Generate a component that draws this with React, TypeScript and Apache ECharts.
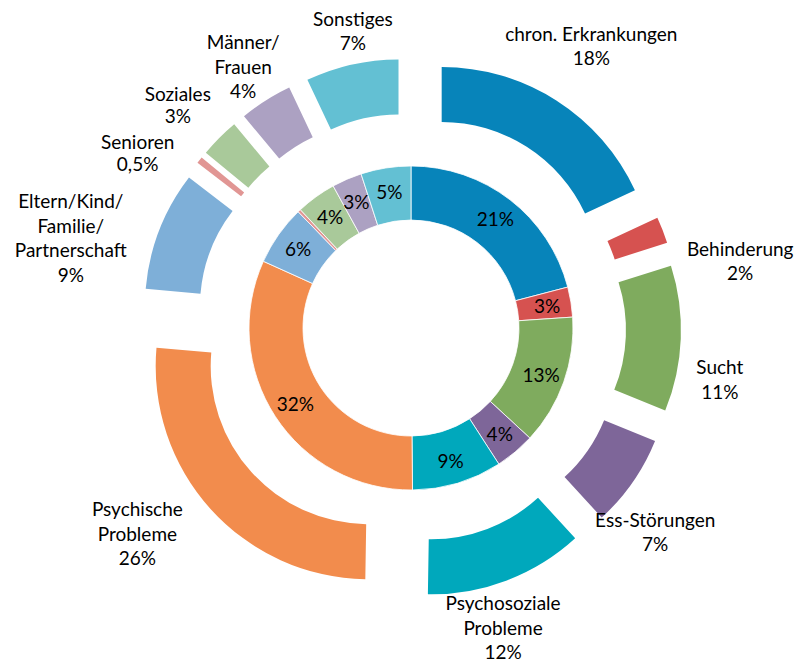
import React, { useEffect, useRef } from 'react';
import * as echarts from 'echarts';

const CATEGORIES = [
  'chron. Erkrankungen',
  'Behinderung',
  'Sucht',
  'Ess-Störungen',
  'Psychosoziale\nProbleme',
  'Psychische\nProbleme',
  'Eltern/Kind/\nFamilie/\nPartnerschaft',
  'Senioren',
  'Soziales',
  'Männer/\nFrauen',
  'Sonstiges',
];
const OUTER_VALUES = [18, 2, 11, 7, 12, 26, 9, 0.5, 3, 4, 7];
const INNER_VALUES = [21, 3, 13, 4, 9, 32, 6, 0.3, 4, 3, 5];
const COLORS = [
  '#0784BA', '#D65250', '#7FAB5E', '#7E6699', '#00A8BC', '#F28C4D',
  '#7EAFD8', '#E19694', '#A9C99A', '#ACA1C2', '#63C0D3',
];

// label placement for the outer ring: shift of angle (deg) from slice middle, distance from centre (px), line height
const OUTER_LABEL_SHIFT = [0, 9.7, 7.1, 5.0, 3.7, 5.2, -6.4, -5.7, -1.0, -0.1, 1.6];
const OUTER_LABEL_DIST = [335, 336, 313, 318, 313, 342, 352, 325, 323, 311, 303];
const OUTER_LABEL_LINE_HEIGHT = [24.5, 24.5, 24.5, 24.5, 24.5, 24.5, 24.5, 22, 22, 24.5, 24.5];

const CX = 411;
const CY = 328;
const FONT = 'Lato';

export default function App() {
  const ref = useRef<HTMLDivElement>(null);
  useEffect(() => {
    document.body.style.margin = '0';
    const chart = echarts.init(ref.current!, undefined, { renderer: 'svg' });
    const total = OUTER_VALUES.reduce((a, b) => a + b, 0);
    const fmtPct = (v: number) => String(v).replace('.', ',') + '%';
    chart.setOption({
      animation: false,
      backgroundColor: '#ffffff',
      series: [
        {
          type: 'pie',
          center: [CX, CY],
          radius: [108, 162],
          startAngle: 90,
          clockwise: true,
          silent: true,
          emphasis: { disabled: true },
          itemStyle: { borderColor: '#ffffff', borderWidth: 0.8 },
          label: {
            show: true,
            position: 'inside',
            color: '#000',
            fontFamily: FONT,
            fontSize: 19,
            formatter: (p: any) => Math.round(p.value) + '%',
          },
          labelLine: { show: false },
          data: INNER_VALUES.map((v, i) => ({
            value: v,
            name: CATEGORIES[i],
            itemStyle: { color: COLORS[i] },
          })),
        },
        {
          type: 'pie',
          center: [CX, CY],
          radius: [158, 213],
          startAngle: 90,
          clockwise: true,
          selectedMode: 'multiple',
          selectedOffset: 57,
          emphasis: { disabled: true },
          select: { itemStyle: { borderWidth: 0 } },
          label: { show: false },
          labelLine: { show: false },
          data: OUTER_VALUES.map((v, i) => ({
            value: v,
            name: CATEGORIES[i],
            selected: true,
            itemStyle: { color: COLORS[i] },
          })),
        },
        {
          type: 'pie',
          center: [CX, CY],
          radius: [158, 213],
          startAngle: 90,
          clockwise: true,
          silent: true,
          emphasis: { disabled: true },
          itemStyle: { color: 'rgba(0,0,0,0)' },
          label: {
            show: true,
            position: 'inside',
            color: '#000',
            fontFamily: FONT,
            fontSize: 19,
            lineHeight: 24.5,
            align: 'center',
            formatter: (p: any) => p.name + '\n' + fmtPct(p.value),
          },
          labelLine: { show: false },
          labelLayout: (p: any) => {
            const i = p.dataIndex;
            let before = 0;
            for (let k = 0; k < i; k++) before += OUTER_VALUES[k];
            const mid = ((before + OUTER_VALUES[i] / 2) / total) * 360 + OUTER_LABEL_SHIFT[i];
            const rad = (mid * Math.PI) / 180;
            return {
              x: CX + OUTER_LABEL_DIST[i] * Math.sin(rad),
              y: CY - OUTER_LABEL_DIST[i] * Math.cos(rad),
              align: 'center',
              verticalAlign: 'middle',
            };
          },
          data: OUTER_VALUES.map((v, i) => ({
            value: v,
            name: CATEGORIES[i],
            label: { lineHeight: OUTER_LABEL_LINE_HEIGHT[i] },
          })),
        },
      ],
    });
    return () => chart.dispose();
  }, []);
  return <div ref={ref} style={{ width: 798, height: 662 }} />;
}
